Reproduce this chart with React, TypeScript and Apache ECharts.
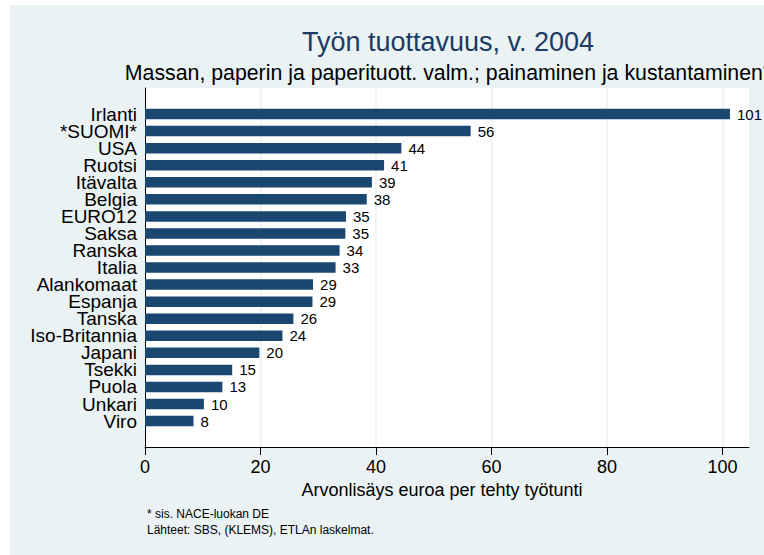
import React, { useEffect, useRef } from "react";
import * as echarts from "echarts";

const categories = [
  "Irlanti", "*SUOMI*", "USA", "Ruotsi", "Itävalta", "Belgia", "EURO12", "Saksa",
  "Ranska", "Italia", "Alankomaat", "Espanja", "Tanska", "Iso-Britannia", "Japani",
  "Tsekki", "Puola", "Unkari", "Viro",
];
const values = [
  101.3, 56.4, 44.4, 41.4, 39.3, 38.4, 34.8, 34.7,
  33.7, 33.0, 29.1, 29.0, 25.7, 23.8, 19.8,
  15.1, 13.4, 10.2, 8.4,
];
const xTicks = [0, 20, 40, 60, 80, 100];
const xMax = 104.6;

const titleText = "Työn tuottavuus, v. 2004";
const subtitleText = "Massan, paperin ja paperituott. valm.; painaminen ja kustantaminen*";
const xAxisTitle = "Arvonlisäys euroa per tehty työtunti";
const notes = ["* sis. NACE-luokan DE", "Lähteet: SBS, (KLEMS), ETLAn laskelmat."];

const FONT = "'Liberation Sans', Arial, sans-serif";
const BG = "#EAF2F3";
const BAR = "#1A476F";

export default function App() {
  const ref = useRef<HTMLDivElement>(null);
  useEffect(() => {
    if (!ref.current) return;
    const chart = echarts.init(ref.current, undefined, { renderer: "svg" });
    chart.setOption({
      animation: false,
      backgroundColor: BG,
      textStyle: { fontFamily: FONT },
      grid: [
        { left: 135, top: 100.5, width: 604, height: 324.1, containLabel: false },
        { left: 135, top: 83, width: 604, height: 359, show: true, backgroundColor: "#ffffff", borderWidth: 0, containLabel: false },
      ],
      xAxis: [
        { type: "value", gridIndex: 0, min: 0, max: xMax, show: false },
        {
          type: "value", gridIndex: 1, min: 0, max: xMax, interval: 20,
          axisLine: { show: true, lineStyle: { color: "#000", width: 1 } },
          axisTick: { show: true, length: 8, customValues: xTicks, lineStyle: { color: "#000" } },
          axisLabel: { customValues: xTicks, fontSize: 18, color: "#000", margin: 11, fontFamily: FONT },
          splitLine: { show: true, lineStyle: { color: BG, width: 1.5 } },
          name: xAxisTitle, nameLocation: "middle", nameGap: 27,
          nameTextStyle: { fontSize: 18, color: "#000", fontFamily: FONT, padding: [0, 10, 0, 0] },
        },
      ],
      yAxis: [
        {
          type: "category", gridIndex: 0, data: categories, inverse: true,
          axisLine: { show: false }, axisTick: { show: false }, splitLine: { show: false },
          axisLabel: { fontSize: 19, color: "#000", margin: 8, fontFamily: FONT, interval: 0 },
        },
        {
          type: "value", gridIndex: 1, min: 0, max: 1,
          axisLine: { show: true, lineStyle: { color: "#000", width: 1 } },
          axisTick: { show: false }, axisLabel: { show: false }, splitLine: { show: false },
        },
      ],
      series: [
        {
          type: "bar", xAxisIndex: 0, yAxisIndex: 0, data: values, barWidth: 10.5,
          itemStyle: { color: BAR },
          label: {
            show: true, position: "right", distance: 7, fontSize: 15, color: "#000", fontFamily: FONT,
            formatter: (p: any) => String(Math.round(p.value)),
          },
          z: 5,
        },
      ],
      graphic: [
        { type: "text", x: 438, y: 37, style: { text: titleText, fill: "#1C3A63", font: `27px ${FONT}`, align: "center", verticalAlign: "middle" } },
        { type: "text", x: 438, y: 68, style: { text: subtitleText, fill: "#000", font: `21.3px ${FONT}`, align: "center", verticalAlign: "middle" } },
        { type: "text", x: 137, y: 509, style: { text: notes[0], fill: "#000", font: `12px ${FONT}`, align: "left", verticalAlign: "middle" } },
        { type: "text", x: 137, y: 525, style: { text: notes[1], fill: "#000", font: `12px ${FONT}`, align: "left", verticalAlign: "middle" } },
      ],
    });
    return () => chart.dispose();
  }, []);
  return (
    <div
      ref={ref}
      style={{ position: "absolute", left: 10, top: 5, width: 754, height: 550 }}
    />
  );
}
